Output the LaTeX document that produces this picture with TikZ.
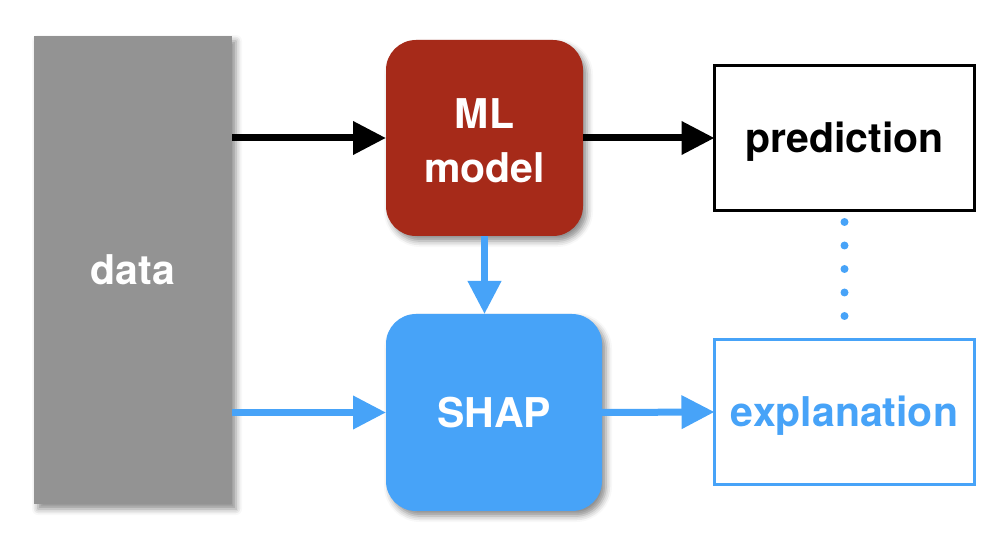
\documentclass[tikz,border=0pt]{standalone}
\usepackage{fontspec}
\setmainfont{TeX Gyre Heros}
\usetikzlibrary{arrows.meta,shadows.blur}
\definecolor{mlred}{HTML}{A62A19}
\definecolor{shapblue}{HTML}{47A3F8}
\definecolor{datagray}{HTML}{939393}
\tikzset{
  box/.style={rectangle,inner sep=0pt,outer sep=0pt,font=\fontsize{41}{54}\selectfont\bfseries,align=center,text height=30pt,text depth=0pt},
  shade/.style={blur shadow={shadow xshift=4pt,shadow yshift=-5pt,shadow blur radius=6pt,shadow opacity=45}},
  blackarrow/.style={line width=7pt,draw=black,-{Triangle[length=33pt,width=32pt]}},
  bluearrow/.style={line width=7pt,draw=shapblue,-{Triangle[length=33pt,width=32pt,fill=shapblue]}},
  dotline/.style={draw=shapblue,line width=8pt,line cap=round,dash pattern=on 0pt off 23.5pt},
}
\begin{document}
\begin{tikzpicture}[x=1pt,y=-1pt]
\useasboundingbox (0,0) rectangle (994,534);
\node[box,shade,fill=datagray,text=white,minimum width=198pt,minimum height=468pt] (data) at (133,270) {data};
\node[box,shade,fill=mlred,text=white,rounded corners=30pt,minimum width=197pt,minimum height=196pt,text height=88.5pt,text depth=0pt] (ml) at (484.5,138) {ML\\model};
\node[box,shade,fill=shapblue,text=white,rounded corners=30pt,minimum width=216pt,minimum height=197pt] (shap) at (494,412.5) {SHAP};
\node[box,draw=black,line width=3pt,fill=white,minimum width=260pt,minimum height=145pt] (pred) at (844.5,138) {prediction};
\node[box,draw=shapblue,line width=3pt,fill=white,text=shapblue,minimum width=260pt,minimum height=145pt] (expl) at (844.5,412) {explanation};
\draw[blackarrow] (data.east |- ml.west) -- (ml.west);
\draw[blackarrow] (ml.east) -- (pred.west);
\draw[bluearrow] (ml.south) -- (ml.south |- shap.north);
\draw[bluearrow] (data.east |- shap.west) -- (shap.west);
\draw[bluearrow] (shap.east) -- (expl.west);
\draw[dotline] ([yshift=-11.5pt]pred.south) -- ([yshift=20pt]expl.north);
\end{tikzpicture}
\end{document}
